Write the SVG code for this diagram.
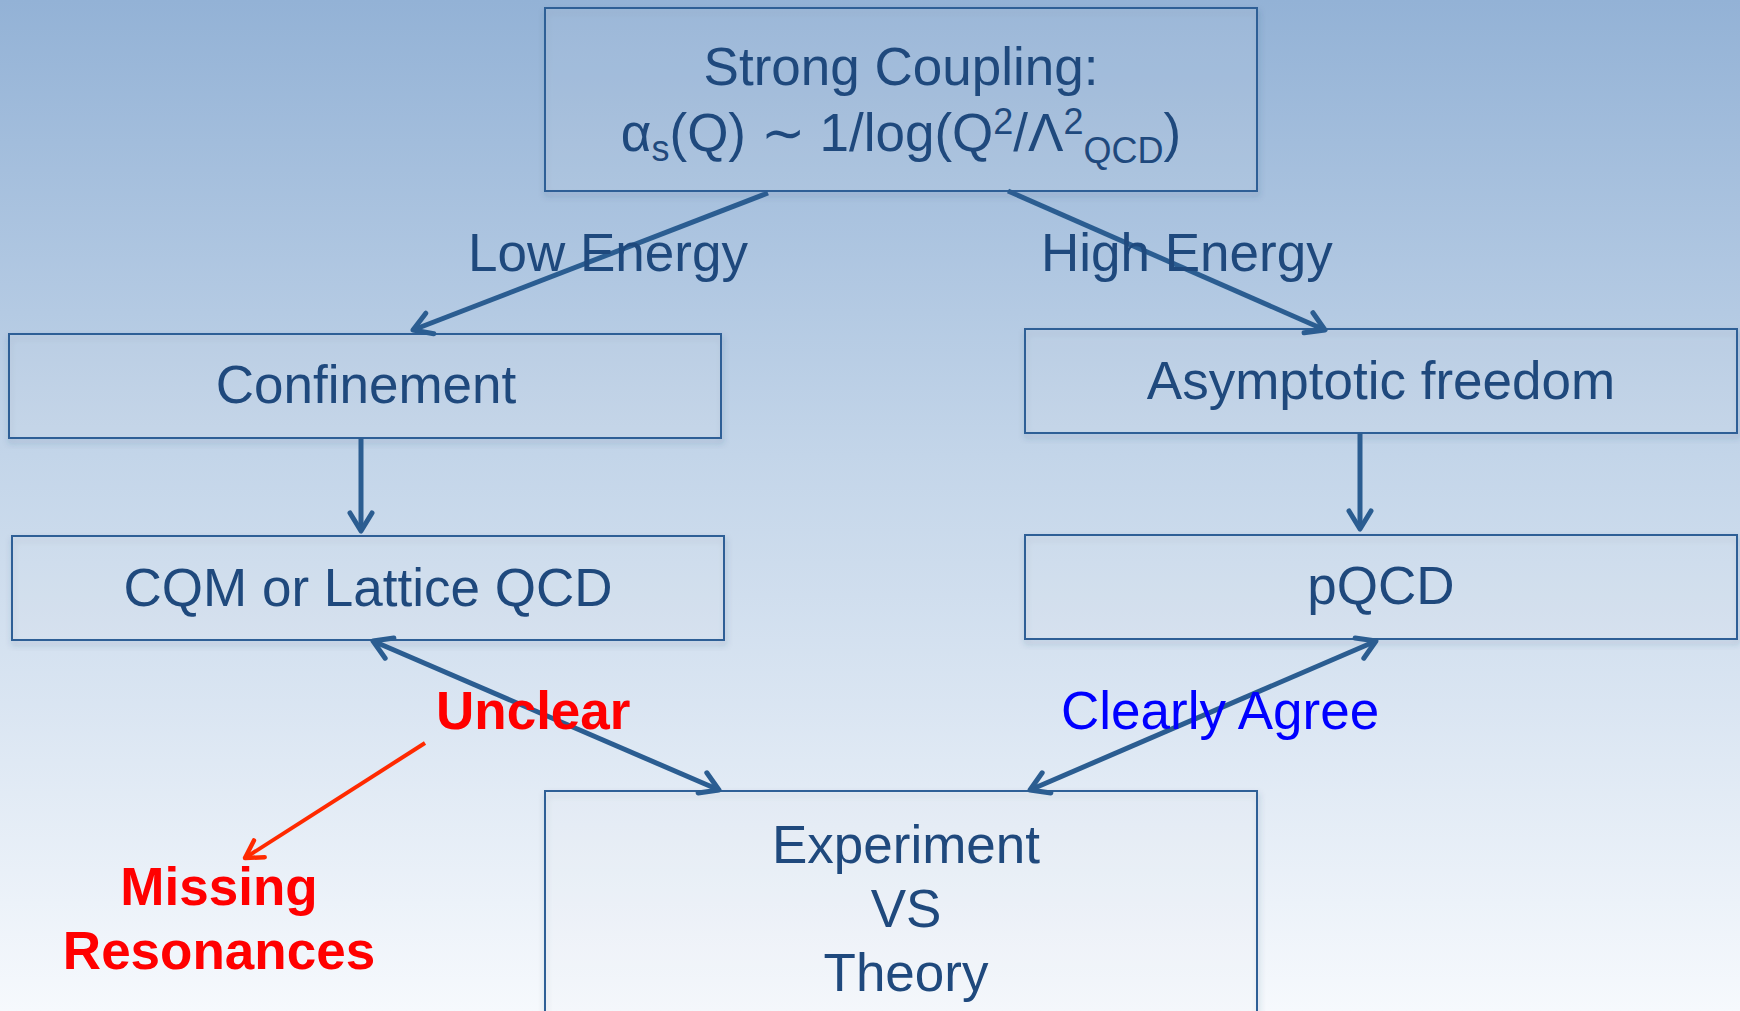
<svg xmlns="http://www.w3.org/2000/svg" width="1740" height="1011" viewBox="0 0 1740 1011">
<defs>
<linearGradient id="bg" x1="0" y1="0" x2="0" y2="1">
<stop offset="0" stop-color="#93b2d6"/>
<stop offset="0.45" stop-color="#c3d5e9"/>
<stop offset="1" stop-color="#f6f9fd"/>
</linearGradient>
<filter id="sh" x="-5%" y="-5%" width="110%" height="115%">
<feDropShadow dx="1" dy="4" stdDeviation="3" flood-color="#2a4a70" flood-opacity="0.3"/>
</filter>
<marker id="ah" markerWidth="26" markerHeight="28" viewBox="-22 -14 26 28" refX="0" refY="0" orient="auto-start-reverse" markerUnits="userSpaceOnUse">
<path d="M-18,-11 L0,0 L-18,11" fill="none" stroke="#2b5d91" stroke-width="5" stroke-linecap="round" stroke-linejoin="round"/>
</marker>
<marker id="ahr" markerWidth="26" markerHeight="28" viewBox="-22 -14 26 28" refX="0" refY="0" orient="auto" markerUnits="userSpaceOnUse">
<path d="M-17,-10 L0,0 L-17,10" fill="none" stroke="#ff2a00" stroke-width="4.5" stroke-linecap="round" stroke-linejoin="round"/>
</marker>
</defs>
<style>
.box{fill:#ffffff;fill-opacity:0.08;stroke:#2f5f96;stroke-width:2;filter:url(#sh);}
.t{font-family:"Liberation Sans",Arial,sans-serif;font-size:53px;fill:#1f497d;text-anchor:middle;}
.lbl{font-family:"Liberation Sans",Arial,sans-serif;font-size:53px;fill:#1f497d;}
.red{font-family:"Liberation Sans",Arial,sans-serif;font-size:53px;font-weight:bold;fill:#ff0000;}
.blue{font-family:"Liberation Sans",Arial,sans-serif;font-size:53px;fill:#0000ff;}
.c{fill:none;stroke:#2b5d91;stroke-width:5;}
.cr{fill:none;stroke:#ff2a00;stroke-width:4;}
</style>
<rect x="0" y="0" width="1740" height="1011" fill="url(#bg)"/>

<g id="node-strong">
<rect class="box" x="545" y="8" width="712" height="183"/>
<text class="t" x="901" y="85">Strong Coupling:</text>
<text class="t" x="901" y="151">α<tspan font-size="36" dy="10">s</tspan><tspan dy="-10">(Q) ∼ 1/log(Q</tspan><tspan font-size="36" dy="-17">2</tspan><tspan dy="17">/Λ</tspan><tspan font-size="36" dy="-17">2</tspan><tspan font-size="36" dy="29">QCD</tspan><tspan dy="-12">)</tspan></text>
</g>

<g id="node-confinement">
<rect class="box" x="9" y="334" width="712" height="104"/>
<text class="t" x="366" y="403">Confinement</text>
</g>

<g id="node-asymptotic">
<rect class="box" x="1025" y="329" width="712" height="104"/>
<text class="t" x="1381" y="399">Asymptotic freedom</text>
</g>

<g id="node-cqm">
<rect class="box" x="12" y="536" width="712" height="104"/>
<text class="t" x="368" y="606">CQM or Lattice QCD</text>
</g>

<g id="node-pqcd">
<rect class="box" x="1025" y="535" width="712" height="104"/>
<text class="t" x="1381" y="604">pQCD</text>
</g>

<g id="node-experiment">
<rect class="box" x="545" y="791" width="712" height="240"/>
<text class="t" x="906" y="863">Experiment</text>
<text class="t" x="906" y="927">VS</text>
<text class="t" x="906" y="991">Theory</text>
</g>

<g id="node-missing">
<text class="red" x="219" y="905" text-anchor="middle">Missing</text>
<text class="red" x="219" y="969" text-anchor="middle">Resonances</text>
</g>

<g id="connectors">
<line class="c" x1="768" y1="193" x2="413" y2="330" marker-end="url(#ah)"/>
<line class="c" x1="1008" y1="191" x2="1325" y2="330" marker-end="url(#ah)"/>
<line class="c" x1="361" y1="438" x2="361" y2="531" marker-end="url(#ah)"/>
<line class="c" x1="1360" y1="433" x2="1360" y2="529" marker-end="url(#ah)"/>
<line class="c" x1="373" y1="641" x2="719" y2="790" marker-start="url(#ah)" marker-end="url(#ah)"/>
<line class="c" x1="1376" y1="641" x2="1030" y2="790" marker-start="url(#ah)" marker-end="url(#ah)"/>
<line class="cr" x1="425" y1="743" x2="245" y2="858" marker-end="url(#ahr)"/>
</g>

<g id="labels">
<text class="lbl" x="468" y="271">Low Energy</text>
<text class="lbl" x="1041" y="271">High Energy</text>
<text class="red" x="436" y="729">Unclear</text>
<text class="blue" x="1061" y="729">Clearly Agree</text>
</g>
</svg>
